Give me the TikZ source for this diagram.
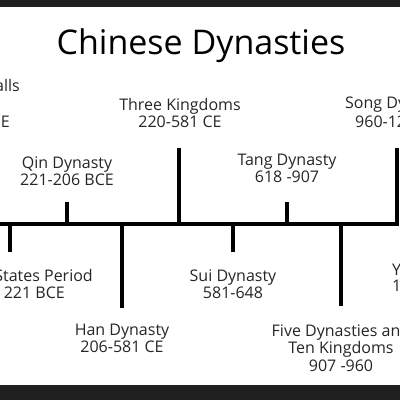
\documentclass[tikz,border=0pt]{standalone}
\usepackage{fontspec}
\setmainfont{Open Sans}
\begin{document}
\begin{tikzpicture}[x=1pt,y=-1pt,
  lbl/.style={inner sep=0pt,text=black!85,font=\fontsize{16}{17.5}\selectfont,align=center},
  tick/.style={line width=3.2pt,black},
  bar/.style={fill=black!88,draw=none}]
\useasboundingbox (0,0) rectangle (400,400);
\clip (0,0) rectangle (400,400);
\fill[white] (0,0) rectangle (400,400);
\fill[bar] (0,0) rectangle (400,7);
\fill[bar] (0,385) rectangle (400,400);
% title
\node[inner sep=0pt,font=\fontsize{34}{38}\selectfont] (title) at (201,46) {Chinese Dynasties};
% timeline
\coordinate (tl) at (-5,224);
\coordinate (tr) at (397,224);
\draw[tick] (tl) -- (tr);
% ticks
\coordinate (a0) at (10,224);  \coordinate (a1) at (10,252);
\coordinate (b0) at (67,224);  \coordinate (b1) at (67,202);
\coordinate (c0) at (122,224); \coordinate (c1) at (122,308);
\coordinate (d0) at (179,224); \coordinate (d1) at (179,148);
\coordinate (e0) at (233,224); \coordinate (e1) at (233,252);
\coordinate (f0) at (287,224); \coordinate (f1) at (287,202);
\coordinate (g0) at (341,224); \coordinate (g1) at (341,306);
\coordinate (h0) at (397,225.6); \coordinate (h1) at (397,148);
\foreach \p in {a,b,c,d,e,f,g,h} \draw[tick] (\p0) -- (\p1);
% labels
\node[lbl,anchor=east] (gw1) at (20,85) {alls};
\node[lbl,anchor=east] (gw2) at (10,122) {E};
\node[lbl] (three) at (180,113) {Three Kingdoms\\220-581 CE};
\node[lbl,anchor=west] (song1) at (345,105) {Song Dynasty};
\node[lbl,anchor=west] (song2) at (355,122) {960-1279};
\node[lbl] (qin) at (67,171) {Qin Dynasty\\221-206 BCE};
\node[lbl] (tang) at (287,168.5) {Tang Dynasty\\618 -907};
\node[lbl,anchor=east] (ws1) at (93,275) {States Period};
\node[lbl,anchor=east] (ws2) at (65,293) {221 BCE};
\node[lbl] (sui) at (233,284) {Sui Dynasty\\581-648};
\node[lbl] (han) at (122,338.5) {Han Dynasty\\206-581 CE};
\node[lbl] (five) at (341,347.5) {Five Dynasties and\\Ten Kingdoms\\907 -960};
\node[lbl,anchor=west] (yuan1) at (392,270) {Yuan};
\node[lbl,anchor=west] (yuan2) at (392,286) {1279};
\end{tikzpicture}
\end{document}
